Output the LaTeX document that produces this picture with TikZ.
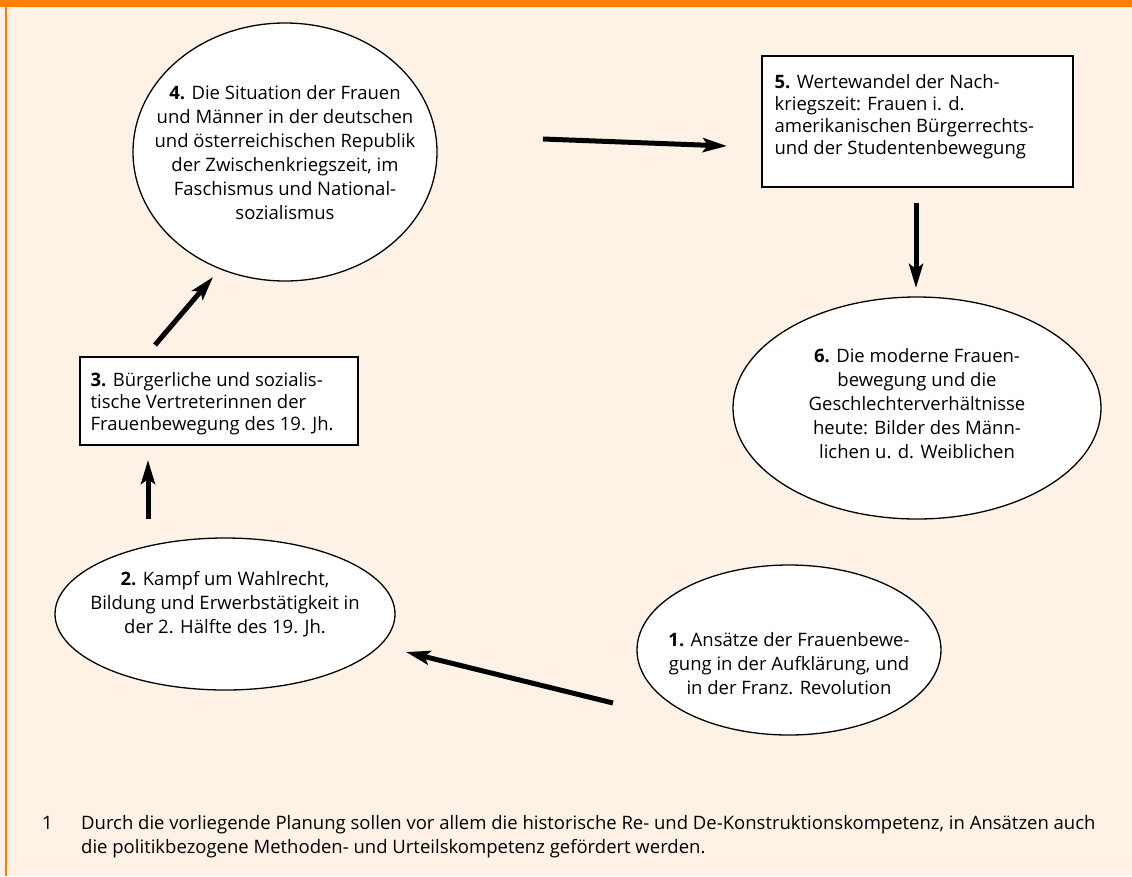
\documentclass[tikz,border=0pt]{standalone}
\usepackage{fontspec}
\setmainfont{Open Sans}
\usetikzlibrary{shapes.geometric,arrows.meta}
\definecolor{cream}{HTML}{FEF1E5}
\definecolor{orng}{HTML}{FF8000}
\begin{document}
\begin{tikzpicture}[x=1pt,y=-1pt,
  txt/.style={font=\fontsize{18.5}{24}\selectfont, align=center, inner sep=0pt},
  boxtxt/.style={font=\fontsize{18.5}{22}\selectfont, align=left, inner sep=0pt},
  oval/.style={ellipse, draw, line width=1.3pt, fill=white, inner sep=0pt},
  box/.style={rectangle, draw, line width=1.3pt, fill=white, inner sep=0pt},
  arr/.style={line width=5pt, -{Stealth[length=24pt,width=14pt,inset=5pt]}},
  foot/.style={font=\fontsize{18.5}{24}\selectfont, inner sep=0pt, anchor=base west}
]
\useasboundingbox (0,0) rectangle (1132,876);
\fill[cream] (0,0) rectangle (1132,876);
\fill[orng] (0,0) rectangle (1132,7);
\fill[orng] (5,7) rectangle (7,876);

% nodes
\node[oval, minimum width=304pt, minimum height=258pt] (n4) at (285,152) {};
\node[txt] (t4) at ([yshift=-1pt]n4.center) {\textbf{4.} Die Situation der Frauen\\und Männer in der deutschen\\und österreichischen Republik\\der Zwischenkriegszeit, im\\Faschismus und National-\\sozialismus};

\node[box, minimum width=311pt, minimum height=131pt] (n5) at (917.5,121.5) {};
\node[boxtxt, anchor=north west] (t5) at ([xshift=13pt,yshift=-19pt]n5.north west) {\textbf{5.} Wertewandel der Nach-\\kriegszeit: Frauen i. d.\\amerikanischen Bürgerrechts-\\und der Studentenbewegung};

\node[oval, minimum width=368pt, minimum height=222pt] (n6) at (917,408) {};
\node[txt] (t6) at ([yshift=4pt]n6.center) {\textbf{6.} Die moderne Frauen-\\bewegung und die\\Geschlechterverhältnisse\\heute: Bilder des Männ-\\lichen u. d. Weiblichen};

\node[box, minimum width=278pt, minimum height=88pt] (n3) at (219,401) {};
\node[boxtxt, anchor=north west] (t3) at ([xshift=11pt,yshift=-16pt]n3.north west) {\textbf{3.} Bürgerliche und sozialis-\\tische Vertreterinnen der\\Frauenbewegung des 19. Jh.};

\node[oval, minimum width=340pt, minimum height=152pt] (n2) at (225,614) {};
\node[txt] (t2) at ([yshift=10pt]n2.center) {\textbf{2.} Kampf um Wahlrecht,\\Bildung und Erwerbstätigkeit in\\der 2. Hälfte des 19. Jh.};

\node[oval, minimum width=304pt, minimum height=170pt] (n1) at (789,650) {};
\node[txt] (t1) at ([yshift=-14pt]n1.center) {\textbf{1.} Ansätze der Frauenbewe-\\gung in der Aufklärung, und\\in der Franz. Revolution};

% arrow end points
\coordinate (a45s) at (543,139);
\coordinate (a45e) at (727,146);
\coordinate (a56s) at (916,203);
\coordinate (a56e) at (916,288);
\coordinate (a12s) at (613,703);
\coordinate (a12e) at (406,652);
\coordinate (a23s) at (148,519);
\coordinate (a23e) at (148,460);
\coordinate (a34s) at (155,345);
\coordinate (a34e) at (213,277);

\draw[arr] (a45s) -- (a45e);
\draw[arr] (a56s) -- (a56e);
\draw[arr] (a12s) -- (a12e);
\draw[arr] (a23s) -- (a23e);
\draw[arr] (a34s) -- (a34e);

% footnote
\node[foot] (fn1) at (42,829) {1};
\node[foot] (fl1) at (81,829) {Durch die vorliegende Planung sollen vor allem die historische Re- und De-Konstruktionskompetenz, in Ansätzen auch};
\node[foot] (fl2) at (81,853) {die politikbezogene Methoden- und Urteilskompetenz gefördert werden.};
\end{tikzpicture}
\end{document}
